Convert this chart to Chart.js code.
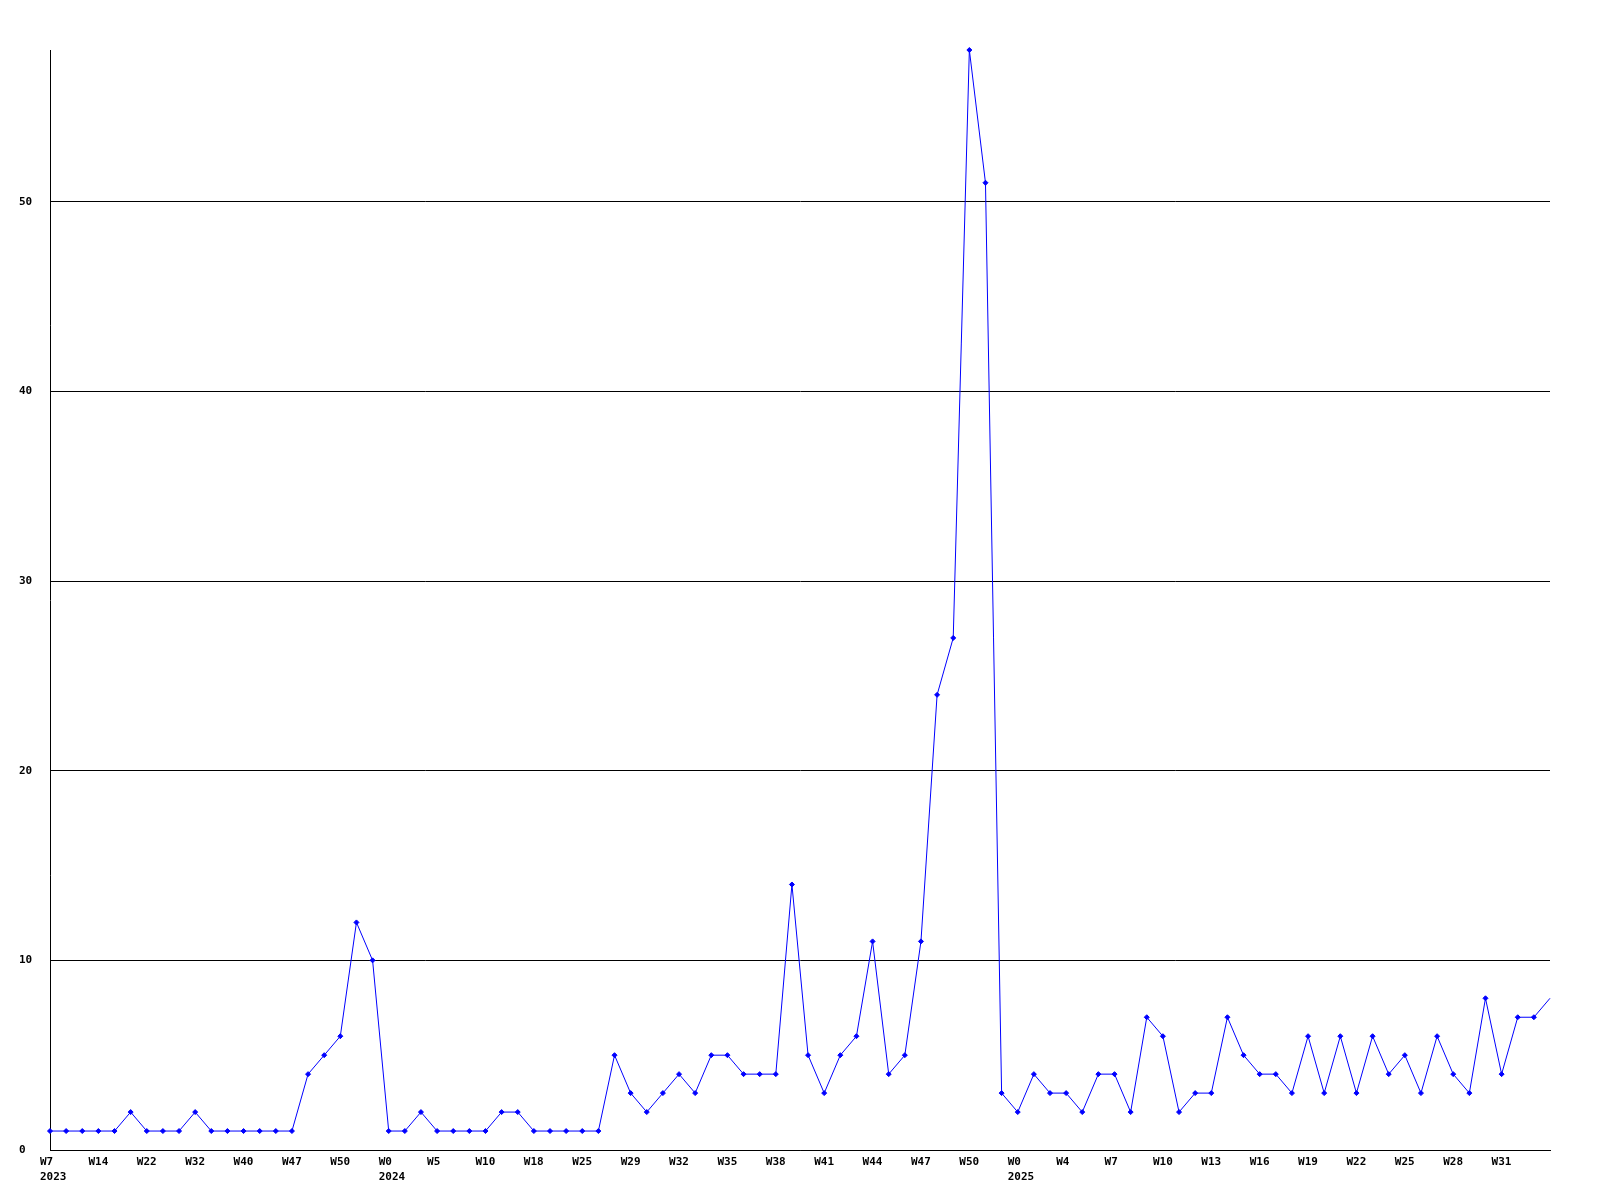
<!DOCTYPE html>
<html>
<head>
<meta charset="utf-8">
<title>Weekly count</title>
<script src="https://cdn.jsdelivr.net/npm/chart.js@4/dist/chart.umd.min.js"></script>
<style>
  html, body { margin: 0; padding: 0; background: #fff; }
  #wrap { position: relative; width: 1600px; height: 1200px; }
</style>
</head>
<body>
<div id="wrap"><canvas id="chartWeekly"></canvas></div>
<script>
// one value per week that had data
const weeklyCounts = [
  1, 1, 1, 1, 1, 2, 1, 1, 1, 2,
  1, 1, 1, 1, 1, 1, 4, 5, 6, 12,
  10, 1, 1, 2, 1, 1, 1, 1, 2, 2,
  1, 1, 1, 1, 1, 5, 3, 2, 3, 4,
  3, 5, 5, 4, 4, 4, 14, 5, 3, 5,
  6, 11, 4, 5, 11, 24, 27, 58, 51, 3,
  2, 4, 3, 3, 2, 4, 4, 2, 7, 6,
  2, 3, 3, 7, 5, 4, 4, 3, 6, 3,
  6, 3, 6, 4, 5, 3, 6, 4, 3, 8,
  4, 7, 7, 8
];

// a label every third point
const tickWeeks = [
  'W7', 'W14', 'W22', 'W32', 'W40', 'W47', 'W50',
  'W0', 'W5', 'W10', 'W18', 'W25', 'W29', 'W32', 'W35', 'W38', 'W41', 'W44', 'W47', 'W50',
  'W0', 'W4', 'W7', 'W10', 'W13', 'W16', 'W19', 'W22', 'W25', 'W28', 'W31'
];
const tickYears = [
  '2023', '', '', '', '', '', '',
  '2024', '', '', '', '', '', '', '', '', '', '', '', '',
  '2025', '', '', '', '', '', '', '', '', '', ''
];
const tickEvery = 3;

const yTicks = [0, 10, 20, 30, 40, 50];
const yMax = 58;

const axisFont = { family: "'DejaVu Sans Mono', monospace", size: 11, weight: 'bold', lineHeight: '15px' };

function xLabel(i) {
  if (i % tickEvery !== 0) return '';
  const k = i / tickEvery;
  if (k >= tickWeeks.length) return '';
  return tickYears[k] ? [tickWeeks[k], tickYears[k]] : tickWeeks[k];
}

const ctx = document.getElementById('chartWeekly').getContext('2d');

new Chart(ctx, {
  type: 'line',
  data: {
    labels: weeklyCounts.map((_, i) => i),
    datasets: [{
      data: weeklyCounts,
      borderColor: '#0000ff',
      backgroundColor: '#0000ff',
      borderWidth: 1,
      tension: 0,
      fill: false,
      clip: false,
      pointStyle: 'rectRot',
      pointRadius: c => (c.dataIndex === weeklyCounts.length - 1 ? 0 : 2.5),
      pointBorderWidth: 1,
      pointHoverRadius: 2.5
    }]
  },
  options: {
    responsive: true,
    maintainAspectRatio: false,
    animation: false,
    layout: { padding: { left: 19, right: 50, top: 50, bottom: 0 } },
    plugins: { legend: { display: false }, tooltip: { enabled: false } },
    scales: {
      x: {
        type: 'category',
        offset: false,
        grid: { display: false, drawTicks: false },
        border: { display: true, color: '#000', width: 1 },
        afterFit: s => { s.height = 50; },
        ticks: {
          autoSkip: false,
          maxRotation: 0,
          minRotation: 0,
          align: 'start',
          labelOffset: -10,
          padding: 4.5,
          color: '#000',
          font: axisFont,
          callback: (v, i) => xLabel(i)
        }
      },
      y: {
        min: 0,
        max: yMax,
        grid: { color: '#000', lineWidth: 1, drawTicks: false },
        border: { display: true, color: '#000', width: 1 },
        afterBuildTicks: s => { s.ticks = yTicks.map(v => ({ value: v })); },
        afterFit: s => { s.width = 31; },
        ticks: {
          crossAlign: 'far',
          color: '#000',
          font: axisFont
        }
      }
    }
  }
});
</script>
</body>
</html>
